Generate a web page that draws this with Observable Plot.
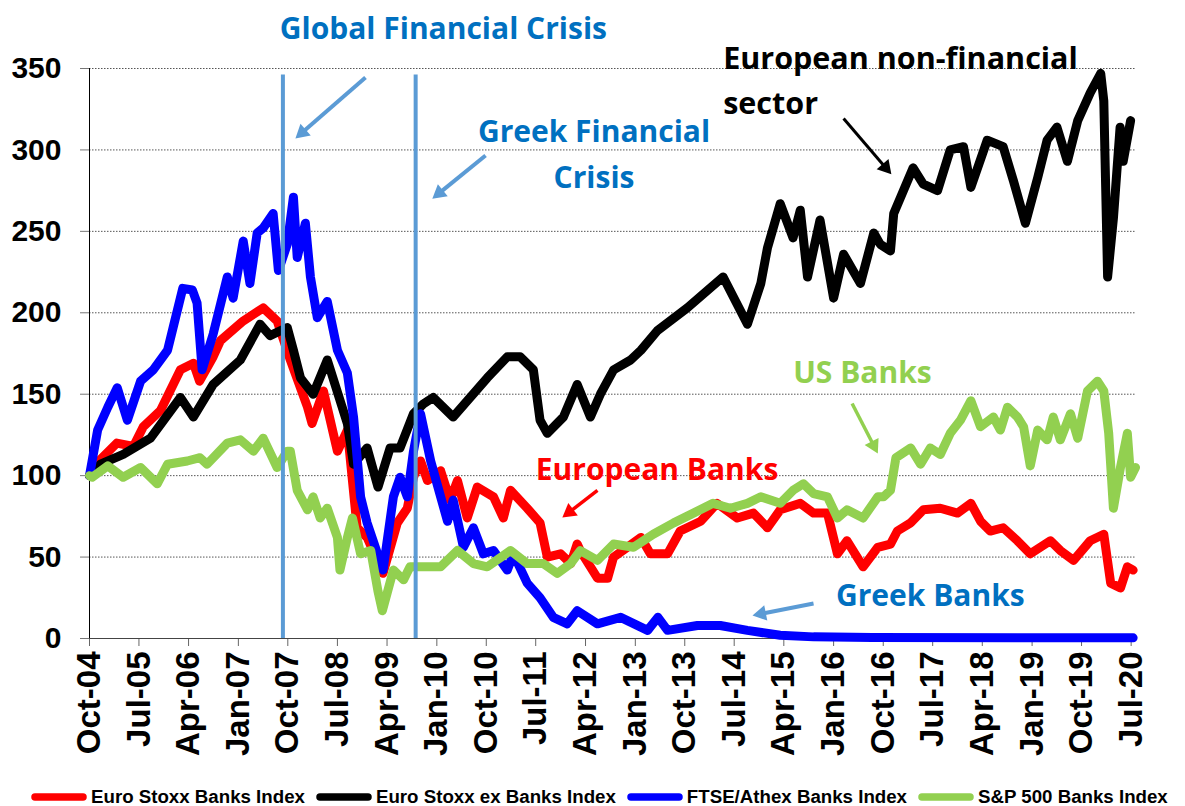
<!DOCTYPE html>
<html><head><meta charset="utf-8">
<script src="https://cdn.jsdelivr.net/npm/d3@7"></script>
<script src="https://cdn.jsdelivr.net/npm/@observablehq/plot@0.6"></script>
<style>
body{margin:0;background:#fff;}
#chart{width:1185px;height:780px;}
.legend{display:flex;align-items:center;padding-left:30px;margin-top:3px;height:28px;font:bold 18.7px "Liberation Sans",Arial,sans-serif;white-space:nowrap;color:#000;}
.legend .item{display:flex;align-items:center;margin-right:10px;}
.legend svg{margin-right:3px;display:block}
</style></head><body><div id="chart"></div><div class="legend" id="legend"></div>
<script>
// ---------- data ----------
const seriesNames = ["Euro Stoxx Banks Index","Euro Stoxx ex Banks Index","FTSE/Athex Banks Index","S&P 500 Banks Index"];
const seriesColors = ["#FF0000","#000000","#0000FF","#92D050"];

const euroStoxxBanks = [["2004-10-01",100],["2004-12-01",110],["2005-03-01",120],["2005-06-01",118],["2005-07-25",130],["2005-10-28",140],["2006-02-15",165],["2006-04-28",169],["2006-06-01",158],["2006-08-15",173],["2006-09-25",183],["2007-01-28",195],["2007-05-18",203],["2007-08-03",195],["2007-10-15",171],["2008-01-18",142],["2008-02-12",132],["2008-04-15",152],["2008-07-01",115],["2008-08-25",128],["2008-10-18",68],["2008-12-12",62],["2009-03-10",40],["2009-05-28",71],["2009-07-22",80],["2009-08-25",99],["2009-10-03",109],["2009-11-10",97],["2010-01-22",103],["2010-03-15",85],["2010-04-25",97],["2010-06-18",74],["2010-08-12",93],["2010-11-10",87],["2011-01-03",74],["2011-02-12",91],["2011-05-15",80],["2011-07-25",71],["2011-09-03",50],["2011-11-15",52],["2012-01-10",46],["2012-02-15",58],["2012-03-03",54],["2012-06-06",37],["2012-08-01",37],["2012-09-03",50],["2013-02-01",62],["2013-03-25",52],["2013-06-28",52],["2013-09-06",66],["2013-12-28",72],["2014-03-28",83],["2014-07-18",74],["2014-10-15",77],["2015-01-01",68],["2015-03-12",79],["2015-07-01",83],["2015-09-12",77],["2015-11-28",77],["2016-01-22",52],["2016-03-15",60],["2016-06-12",44],["2016-09-01",56],["2016-11-10",58],["2016-12-18",66],["2017-03-01",71],["2017-05-10",79],["2017-08-12",80],["2017-11-15",77],["2018-01-28",83],["2018-03-22",72],["2018-05-15",66],["2018-07-25",68],["2018-10-12",60],["2018-12-22",52],["2019-04-12",60],["2019-06-06",54],["2019-08-18",48],["2019-11-18",60],["2020-02-01",64],["2020-03-10",34],["2020-05-03",31],["2020-06-10",44],["2020-07-12",42]];

const euroStoxxExBanks = [["2004-10-01",100],["2004-12-01",107],["2005-04-05",113],["2005-09-03",123],["2006-02-15",148],["2006-04-28",136],["2006-08-15",156],["2007-01-12",171],["2007-05-01",193],["2007-06-25",186],["2007-09-28",191],["2007-11-01",177],["2007-12-10",160],["2008-02-18",150],["2008-05-06",171],["2008-08-25",132],["2008-09-28",107],["2008-12-12",117],["2009-02-10",93],["2009-04-18",117],["2009-06-12",117],["2009-08-25",138],["2009-10-18",144],["2009-12-12",148],["2010-04-01",136],["2010-10-06",160],["2011-01-25",173],["2011-04-06",173],["2011-06-18",165],["2011-07-25",134],["2011-09-03",126],["2011-12-01",136],["2012-02-15",156],["2012-04-28",136],["2012-06-22",150],["2012-09-03",165],["2012-12-06",171],["2013-02-01",177],["2013-05-03",189],["2013-10-15",203],["2014-05-01",222],["2014-09-12",193],["2014-11-25",218],["2015-01-01",240],["2015-03-12",267],["2015-05-22",246],["2015-07-01",263],["2015-08-10",222],["2015-10-18",257],["2016-01-01",209],["2016-02-25",236],["2016-05-28",218],["2016-08-10",249],["2016-09-15",242],["2016-11-10",238],["2016-11-28",261],["2017-03-15",289],["2017-05-10",279],["2017-07-28",275],["2017-10-06",300],["2017-12-18",302],["2018-01-28",277],["2018-04-28",306],["2018-07-25",302],["2018-09-20",281],["2018-11-25",255],["2019-02-01",283],["2019-03-25",306],["2019-05-18",314],["2019-07-15",293],["2019-09-10",318],["2019-11-18",335],["2020-01-15",347],["2020-02-01",330],["2020-02-22",222],["2020-03-25",258],["2020-05-01",314],["2020-05-18",293],["2020-06-28",318]];

const ftseAthexBanks = [["2004-10-01",100],["2004-11-15",128],["2005-01-10",142],["2005-03-03",154],["2005-04-28",134],["2005-07-10",158],["2005-09-18",165],["2005-12-06",177],["2006-01-06",191],["2006-02-28",215],["2006-04-22",214],["2006-05-18",206],["2006-06-15",165],["2006-08-15",187],["2006-11-01",222],["2006-12-03",209],["2007-01-28",244],["2007-03-06",218],["2007-04-15",249],["2007-05-18",252],["2007-07-12",261],["2007-08-10",226],["2007-09-28",242],["2007-11-01",271],["2007-11-22",234],["2008-01-06",255],["2008-02-03",222],["2008-03-12",197],["2008-05-06",207],["2008-07-01",177],["2008-08-25",163],["2008-09-28",136],["2008-11-06",87],["2008-12-12",71],["2009-03-10",42],["2009-05-06",87],["2009-06-12",99],["2009-07-22",87],["2009-08-25",115],["2009-10-03",138],["2009-11-28",109],["2010-01-22",87],["2010-03-01",72],["2010-04-01",85],["2010-05-28",56],["2010-07-22",68],["2010-09-15",52],["2010-11-10",54],["2011-01-25",42],["2011-02-28",52],["2011-05-15",34],["2011-07-25",25],["2011-10-06",13],["2011-12-22",9],["2012-02-15",17],["2012-06-06",9],["2012-10-12",13],["2013-03-10",5],["2013-05-06",13],["2013-06-28",5],["2013-12-10",8],["2014-04-15",8],["2014-09-12",5],["2015-03-12",2],["2015-09-12",1],["2016-08-01",0.6],["2020-07-12",0.4]];

const sp500Banks = [["2004-10-01",100],["2004-10-15",99],["2005-01-10",106],["2005-04-05",99],["2005-07-10",105],["2005-10-10",95],["2005-12-06",107],["2006-03-25",109],["2006-06-03",111],["2006-07-12",107],["2006-11-01",120],["2007-01-12",122],["2007-03-25",115],["2007-05-18",123],["2007-08-03",105],["2007-09-28",115],["2007-10-15",115],["2007-11-22",91],["2008-01-18",79],["2008-02-18",87],["2008-03-28",74],["2008-05-06",80],["2008-07-01",62],["2008-07-15",42],["2008-08-25",62],["2008-09-22",74],["2008-11-06",52],["2009-01-01",54],["2009-02-10",29],["2009-03-06",17],["2009-05-06",42],["2009-07-01",36],["2009-08-06",44],["2010-01-22",44],["2010-04-25",54],["2010-07-22",46],["2010-10-06",44],["2011-02-12",54],["2011-05-15",46],["2011-08-12",46],["2011-10-28",40],["2012-01-10",46],["2012-03-03",54],["2012-06-06",48],["2012-09-03",58],["2012-12-22",56],["2013-04-10",64],["2013-08-01",71],["2013-11-18",77],["2014-03-06",83],["2014-06-10",80],["2014-09-12",83],["2014-11-25",87],["2015-03-12",83],["2015-05-22",91],["2015-07-18",95],["2015-09-12",89],["2015-11-28",87],["2016-01-22",74],["2016-03-15",79],["2016-06-12",74],["2016-09-01",87],["2016-10-03",87],["2016-11-10",91],["2016-12-10",111],["2017-03-01",117],["2017-04-25",107],["2017-06-18",117],["2017-08-12",113],["2017-10-06",126],["2017-12-01",134],["2018-01-28",146],["2018-03-22",130],["2018-06-01",136],["2018-07-10",128],["2018-08-18",142],["2018-10-12",136],["2018-11-15",130],["2018-12-22",106],["2019-02-01",128],["2019-03-25",122],["2019-04-28",136],["2019-06-06",122],["2019-08-01",138],["2019-09-10",123],["2019-11-03",152],["2019-12-28",158],["2020-02-01",152],["2020-02-28",126],["2020-03-25",80],["2020-05-03",105],["2020-06-10",126],["2020-06-28",99],["2020-07-25",105]];

const xTickDates = ["2004-10-01","2005-07-01","2006-04-01","2007-01-01","2007-10-01","2008-07-01","2009-04-01","2010-01-01","2010-10-01","2011-07-01","2012-04-01","2013-01-01","2013-10-01","2014-07-01","2015-04-01","2016-01-01","2016-10-01","2017-07-01","2018-04-01","2019-01-01","2019-10-01","2020-07-01"];
const xTickLabels = ["Oct-04","Jul-05","Apr-06","Jan-07","Oct-07","Jul-08","Apr-09","Jan-10","Oct-10","Jul-11","Apr-12","Jan-13","Oct-13","Jul-14","Apr-15","Jan-16","Oct-16","Jul-17","Apr-18","Jan-19","Oct-19","Jul-20"];
const yTicks = [0,50,100,150,200,250,300,350];

// crisis marker dates
const crisisDates = ["2007-09-04","2009-09-06"];

// annotations
const annTextsCentered = ["Global Financial Crisis","Greek Financial\nCrisis","US Banks","European Banks","Greek Banks"];
const annDatesCentered = ["2010-02-06","2012-05-18","2016-06-08","2013-05-01","2017-06-18"];
const annValuesCentered = [377.5,300,166,106.5,29];
const annColorsCentered = ["#0070C0","#0070C0","#92D050","#FF0000","#0070C0"];
const annTextsLeft = ["European non-financial\nsector"];
const annDatesLeft = ["2014-05-01"];
const annValuesLeft = [344.5];

const arrowFromDates = ["2008-12-03","2010-09-27","2016-02-25","2016-04-12","2012-06-06","2015-09-12"];
const arrowFromValues = [344.5,296.6,319.3,144.3,90.9,21.5];
const arrowToDates = ["2007-11-12","2009-12-07","2016-11-15","2016-09-01","2011-11-25","2014-10-10"];
const arrowToValues = [307,270,285,113.6,74.3,14.1];
const arrowColors = ["#5B9BD5","#5B9BD5","#000000","#92D050","#FF0000","#5B9BD5"];
const arrowWidths = [4,4,3,3.5,3.5,4];

// ---------- build ----------
const D = s => new Date(s + "T00:00:00Z");
const W = 1185, H = 780, ML = 89, MR = 50, MT = 68, MB = 142;
const allSeries = [euroStoxxBanks, euroStoxxExBanks, ftseAthexBanks, sp500Banks];
const rows = allSeries.flatMap((arr, i) => arr.map(([d, v]) => ({date: D(d), value: v, series: seriesNames[i]})));
const tickDateObjs = xTickDates.map(D);
const labelMap = new Map(tickDateObjs.map((d, i) => [+d, xTickLabels[i]]));
const annC = annTextsCentered.map((t, i) => ({text: t, date: D(annDatesCentered[i]), value: annValuesCentered[i], color: annColorsCentered[i]}));
const annL = annTextsLeft.map((t, i) => ({text: t, date: D(annDatesLeft[i]), value: annValuesLeft[i]}));
const xDomain = [D("2004-10-01"), D("2020-07-25")];

// scales identical to the plot's, used to orient arrowheads
const sx = Plot.scale({x: {type: "utc", domain: xDomain, range: [ML, W - MR]}});
const sy = Plot.scale({y: {type: "linear", domain: [0, 350], range: [H - MB, MT]}});
const HEAD_R = 5.8;
const tipOff = 2 * HEAD_R * Math.sqrt(Math.PI / (3 * Math.sqrt(3)));
const arrows = arrowFromDates.map((d, i) => {
  const x1 = D(d), y1 = arrowFromValues[i], x2 = D(arrowToDates[i]), y2 = arrowToValues[i];
  const px1 = sx.apply(x1), py1 = sy.apply(y1), px2 = sx.apply(x2), py2 = sy.apply(y2);
  const len = Math.hypot(px2 - px1, py2 - py1), ux = (px2 - px1) / len, uy = (py2 - py1) / len;
  const cx = px2 - ux * tipOff, cy = py2 - uy * tipOff;
  const ex = px2 - ux * tipOff * 1.3, ey = py2 - uy * tipOff * 1.3;
  return {x1, y1, x2: sx.invert(ex), y2: sy.invert(ey), hx: sx.invert(cx), hy: sy.invert(cy),
          rot: Math.atan2(ux, -uy) * 180 / Math.PI, color: arrowColors[i], w: arrowWidths[i]};
});

const annFont = "'Open Sans', Lato, sans-serif";

const chart = Plot.plot({
  width: W,
  height: H,
  marginLeft: ML,
  marginRight: MR,
  marginTop: MT,
  marginBottom: MB,
  style: {fontFamily: "'Liberation Sans', Arial, sans-serif", background: "#fff", color: "#000", overflow: "visible"},
  x: {type: "utc", domain: xDomain},
  y: {domain: [0, 350]},
  color: {domain: seriesNames, range: seriesColors},
  marks: [
    Plot.gridY(yTicks.filter(t => t > 0), {stroke: "#555", strokeOpacity: 1, strokeDasharray: "1.5,1.5", strokeWidth: 1}),
    Plot.axisY({ticks: yTicks, tickSize: 9, tickPadding: 19, fontSize: 30, fontWeight: "bold", stroke: "#777", label: null}),
    Plot.axisX({ticks: tickDateObjs, tickFormat: d => labelMap.get(+d), tickRotate: -90, tickSize: 8, tickPadding: 5, fontSize: 33, fontWeight: "bold", stroke: "#666", label: null}),
    Plot.ruleY([0], {stroke: "#444", strokeWidth: 1}),
    Plot.ruleX([xDomain[0]], {y1: 0, y2: 350, stroke: "#000", strokeWidth: 1}),
    Plot.line(rows, {x: "date", y: "value", z: "series", stroke: "series", strokeWidth: 9, strokeLinejoin: "round", strokeLinecap: "round"}),
    Plot.ruleX(crisisDates.map(D), {y1: 0, y2: 346, stroke: "#5B9BD5", strokeWidth: 4}),
    Plot.link(arrows, {x1: "x1", y1: "y1", x2: "x2", y2: "y2", stroke: "color", strokeWidth: "w"}),
    Plot.dot(arrows, {x: "hx", y: "hy", symbol: "triangle", r: HEAD_R, fill: "color", stroke: "none", rotate: "rot"}),
    Plot.text(annC, {x: "date", y: "value", text: "text", fill: "color", fontSize: 30, fontWeight: "bold", fontFamily: annFont, textAnchor: "middle", lineAnchor: "middle", lineHeight: 1.55}),
    Plot.text(annL, {x: "date", y: "value", text: "text", fill: "#000", fontSize: 30.5, fontWeight: "bold", fontFamily: annFont, textAnchor: "start", lineAnchor: "middle", lineHeight: 1.48})
  ]
});
document.getElementById("chart").appendChild(chart);

// legend
const legend = document.getElementById("legend");
seriesNames.forEach((name, i) => {
  const item = document.createElement("div");
  item.className = "item";
  item.innerHTML = `<svg width="58" height="10"><line x1="5" y1="5" x2="53" y2="5" stroke="${seriesColors[i]}" stroke-width="7.5" stroke-linecap="round"/></svg><span>${name.replace("&","&amp;")}</span>`;
  legend.appendChild(item);
});
</script>
</body></html>
